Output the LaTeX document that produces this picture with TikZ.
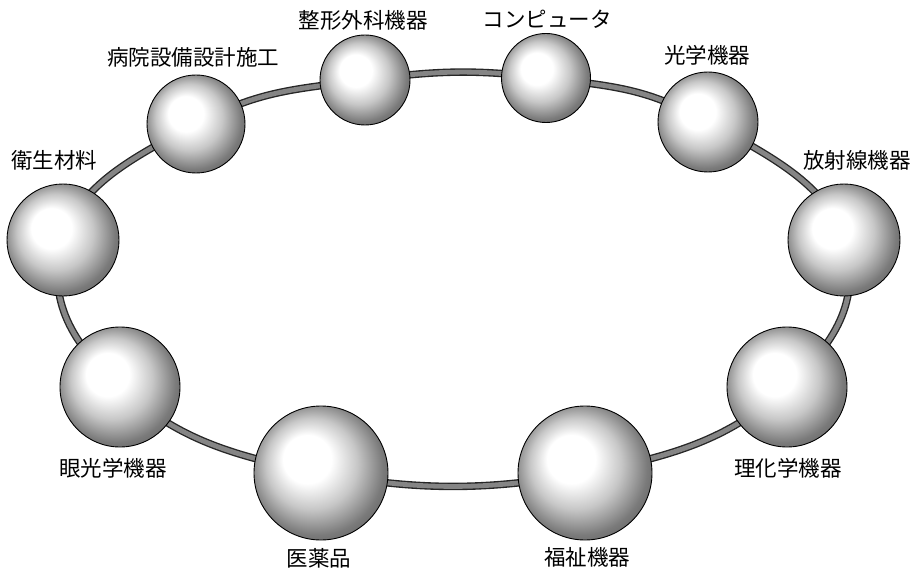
\documentclass[tikz,border=0pt]{standalone}
\usepackage{fontspec}
\newfontfamily\jpfont{Noto Sans CJK JP}
\usetikzlibrary{backgrounds}
% sphere shading: broad highlight towards the upper left, darker lower right
\pgfdeclareradialshading{glossyball}{\pgfpoint{-7bp}{7bp}}{%
  color(0bp)=(white);
  color(9bp)=(white);
  color(17bp)=(black!22);
  color(25bp)=(black!52);
  color(34bp)=(black!70)}
\tikzset{
  ball/.style={circle, draw=black, line width=0.9pt, shading=glossyball, inner sep=0pt},
  ringouter/.style={line width=7.5pt, black!85},
  ringinner/.style={line width=4.8pt, black!48},
  tag/.style={font=\jpfont\fontsize{21.5}{21.5}\selectfont, inner sep=0pt}
}
\begin{document}
\begin{tikzpicture}[x=1pt, y=-1pt]
  \useasboundingbox (0,0) rectangle (915,572);
  % spheres
  \node[ball, minimum size=112pt] (eisei)   at (63,240)  {};
  \node[ball, minimum size=98pt]  (byoin)   at (196,124) {};
  \node[ball, minimum size=90pt]  (seikei)  at (365,80)  {};
  \node[ball, minimum size=89pt]  (comp)    at (546,78)  {};
  \node[ball, minimum size=100pt] (kogaku)  at (708,122) {};
  \node[ball, minimum size=112pt] (hosha)   at (844,240) {};
  \node[ball, minimum size=120pt] (rika)    at (787,387) {};
  \node[ball, minimum size=134pt] (fukushi) at (585,473) {};
  \node[ball, minimum size=134pt] (iyaku)   at (321,473) {};
  \node[ball, minimum size=120pt] (gan)     at (120,387) {};
  % ring joining the spheres, behind them
  \begin{scope}[on background layer]
    \foreach \s in {ringouter, ringinner}
      \draw[\s] plot[smooth cycle, tension=0.75] coordinates {
        (eisei.center) (byoin.center) (seikei.center) (comp.center)
        (kogaku.center) (hosha.center) (rika.center) (fukushi.center)
        (iyaku.center) (gan.center)};
  \end{scope}
  % labels
  \node[tag] (t1)  at (363,20)  {整形外科機器};
  \node[tag] (t2)  at (193,57)  {病院設備設計施工};
  \node[tag] (t3)  at (54,160)  {衛生材料};
  \node[tag] (t4)  at (547,19)  {コンピュータ};
  \node[tag] (t5)  at (707,55)  {光学機器};
  \node[tag] (t6)  at (857,160) {放射線機器};
  \node[tag] (t7)  at (113,468) {眼光学機器};
  \node[tag] (t8)  at (319,558) {医薬品};
  \node[tag] (t9)  at (587,557) {福祉機器};
  \node[tag] (t10) at (788,468) {理化学機器};
\end{tikzpicture}
\end{document}
